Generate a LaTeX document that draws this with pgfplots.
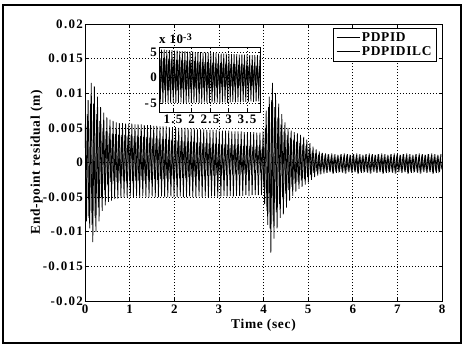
\documentclass[border=0pt]{standalone}
\usepackage{pgfplots}
\pgfplotsset{compat=1.18}
\usepackage{pgfplotstable}
\usepackage{fontspec}
\setmainfont{Liberation Serif}
\newfontfamily\tickfont[LetterSpace=10]{Liberation Serif}
\newfontfamily\labfont[LetterSpace=5]{Liberation Serif}

\pgfplotstableread{
t y
0.000 0.0055
0.035 -0.0085
0.070 0.0090
0.105 -0.0095
0.140 0.0115
0.175 -0.0115
0.210 0.0110
0.245 -0.0100
0.280 0.0095
0.315 -0.0085
0.350 0.0080
0.385 -0.0070
0.420 0.0072
0.455 -0.0062
0.490 0.0065
0.525 -0.0057
0.560 0.0062
0.595 -0.0055
0.630 0.0060
0.665 -0.0053
0.700 0.0058
0.735 -0.0052
0.770 0.0057
0.805 -0.0051
0.840 0.0057
0.875 -0.0050
0.910 0.0056
0.945 -0.0050
0.980 0.0056
1.015 -0.0049
1.050 0.0056
1.085 -0.0050
1.120 0.0055
1.155 -0.0049
1.190 0.0055
1.225 -0.0050
1.260 0.0055
1.295 -0.0049
1.330 0.0054
1.365 -0.0050
1.400 0.0054
1.435 -0.0050
1.470 0.0054
1.505 -0.0049
1.540 0.0053
1.575 -0.0050
1.610 0.0053
1.645 -0.0050
1.680 0.0052
1.715 -0.0049
1.750 0.0052
1.785 -0.0050
1.820 0.0052
1.855 -0.0050
1.890 0.0051
1.925 -0.0049
1.960 0.0051
1.995 -0.0050
2.030 0.0051
2.065 -0.0050
2.100 0.0050
2.135 -0.0049
2.170 0.0050
2.205 -0.0050
2.240 0.0050
2.275 -0.0050
2.310 0.0049
2.345 -0.0049
2.380 0.0049
2.415 -0.0050
2.450 0.0049
2.485 -0.0050
2.520 0.0048
2.555 -0.0049
2.590 0.0048
2.625 -0.0050
2.660 0.0048
2.695 -0.0049
2.730 0.0047
2.765 -0.0050
2.800 0.0047
2.835 -0.0049
2.870 0.0047
2.905 -0.0049
2.940 0.0047
2.975 -0.0050
3.010 0.0046
3.045 -0.0049
3.080 0.0046
3.115 -0.0048
3.150 0.0046
3.185 -0.0049
3.220 0.0046
3.255 -0.0048
3.290 0.0045
3.325 -0.0049
3.360 0.0045
3.395 -0.0048
3.430 0.0045
3.465 -0.0048
3.500 0.0045
3.535 -0.0048
3.570 0.0044
3.605 -0.0047
3.640 0.0044
3.675 -0.0048
3.710 0.0044
3.745 -0.0047
3.780 0.0044
3.815 -0.0047
3.850 0.0043
3.885 -0.0047
3.920 0.0043
3.955 -0.0047
3.990 0.0045
4.025 -0.0060
4.060 0.0075
4.095 -0.0090
4.130 0.0095
4.165 -0.0130
4.200 0.0115
4.235 -0.0110
4.270 0.0100
4.305 -0.0095
4.340 0.0085
4.375 -0.0080
4.410 0.0070
4.445 -0.0075
4.480 0.0058
4.515 -0.0065
4.550 0.0050
4.585 -0.0055
4.620 0.0046
4.655 -0.0048
4.690 0.0044
4.725 -0.0042
4.760 0.0042
4.795 -0.0038
4.830 0.0040
4.865 -0.0035
4.900 0.0037
4.935 -0.0032
4.970 0.0033
5.005 -0.0029
5.040 0.0028
5.075 -0.0025
5.110 0.0023
5.145 -0.0021
5.180 0.0019
5.215 -0.0019
5.250 0.0016
5.285 -0.0017
5.320 0.0014
5.355 -0.0016
5.390 0.0013
5.425 -0.0015
5.460 0.0012
5.495 -0.0014
5.530 0.0013
5.565 -0.0016
5.600 0.0012
5.635 -0.0015
5.670 0.0011
5.705 -0.0014
5.740 0.0012
5.775 -0.0015
5.810 0.0013
5.845 -0.0016
5.880 0.0012
5.915 -0.0014
5.950 0.0011
5.985 -0.0015
6.020 0.0012
6.055 -0.0014
6.090 0.0013
6.125 -0.0016
6.160 0.0012
6.195 -0.0015
6.230 0.0011
6.265 -0.0014
6.300 0.0012
6.335 -0.0015
6.370 0.0013
6.405 -0.0016
6.440 0.0012
6.475 -0.0014
6.510 0.0011
6.545 -0.0015
6.580 0.0012
6.615 -0.0014
6.650 0.0013
6.685 -0.0016
6.720 0.0012
6.755 -0.0015
6.790 0.0011
6.825 -0.0014
6.860 0.0012
6.895 -0.0015
6.930 0.0013
6.965 -0.0016
7.000 0.0012
7.035 -0.0014
7.070 0.0011
7.105 -0.0015
7.140 0.0012
7.175 -0.0014
7.210 0.0013
7.245 -0.0016
7.280 0.0012
7.315 -0.0015
7.350 0.0011
7.385 -0.0014
7.420 0.0012
7.455 -0.0015
7.490 0.0013
7.525 -0.0016
7.560 0.0012
7.595 -0.0014
7.630 0.0011
7.665 -0.0015
7.700 0.0012
7.735 -0.0014
7.770 0.0013
7.805 -0.0016
7.840 0.0012
7.875 -0.0015
7.910 0.0011
7.945 -0.0014
7.980 0.0012
}\pdpid

\pgfplotstableread{
t y
0.0175 -0.0060
0.0525 0.0070
0.0875 -0.0080
0.1225 0.0085
0.1575 -0.0090
0.1925 0.0085
0.2275 -0.0080
0.2625 0.0070
0.2975 -0.0065
0.3325 0.0060
0.3675 -0.0050
0.4025 0.0050
0.4375 -0.0040
0.4725 0.0045
0.5075 -0.0032
0.5425 0.0042
0.5775 -0.0028
0.6125 0.0041
0.6475 -0.0027
0.6825 0.0041
0.7175 -0.0028
0.7525 0.0040
0.7875 -0.0027
0.8225 0.0040
0.8575 -0.0026
0.8925 0.0040
0.9275 -0.0027
0.9625 0.0039
0.9975 -0.0026
1.0325 0.0039
1.0675 -0.0027
1.1025 0.0038
1.1375 -0.0026
1.1725 0.0038
1.2075 -0.0026
1.2425 0.0038
1.2775 -0.0025
1.3125 0.0037
1.3475 -0.0026
1.3825 0.0037
1.4175 -0.0025
1.4525 0.0036
1.4875 -0.0025
1.5225 0.0036
1.5575 -0.0024
1.5925 0.0035
1.6275 -0.0025
1.6625 0.0035
1.6975 -0.0024
1.7325 0.0034
1.7675 -0.0024
1.8025 0.0034
1.8375 -0.0023
1.8725 0.0033
1.9075 -0.0024
1.9425 0.0033
1.9775 -0.0023
2.0125 0.0032
2.0475 -0.0023
2.0825 0.0032
2.1175 -0.0022
2.1525 0.0031
2.1875 -0.0022
2.2225 0.0031
2.2575 -0.0022
2.2925 0.0030
2.3275 -0.0021
2.3625 0.0030
2.3975 -0.0021
2.4325 0.0030
2.4675 -0.0021
2.5025 0.0029
2.5375 -0.0020
2.5725 0.0029
2.6075 -0.0020
2.6425 0.0028
2.6775 -0.0020
2.7125 0.0028
2.7475 -0.0019
2.7825 0.0028
2.8175 -0.0019
2.8525 0.0027
2.8875 -0.0019
2.9225 0.0027
2.9575 -0.0018
2.9925 0.0027
3.0275 -0.0018
3.0625 0.0026
3.0975 -0.0018
3.1325 0.0026
3.1675 -0.0018
3.2025 0.0026
3.2375 -0.0017
3.2725 0.0025
3.3075 -0.0017
3.3425 0.0025
3.3775 -0.0017
3.4125 0.0025
3.4475 -0.0017
3.4825 0.0024
3.5175 -0.0016
3.5525 0.0024
3.5875 -0.0016
3.6225 0.0024
3.6575 -0.0016
3.6925 0.0024
3.7275 -0.0016
3.7625 0.0023
3.7975 -0.0015
3.8325 0.0023
3.8675 -0.0015
3.9025 0.0023
3.9375 -0.0015
3.9725 0.0023
4.0075 -0.0035
4.0425 0.0050
4.0775 -0.0070
4.1125 0.0080
4.1475 -0.0095
4.1825 0.0090
4.2175 -0.0085
4.2525 0.0080
4.2875 -0.0072
4.3225 0.0065
4.3575 -0.0060
4.3925 0.0055
4.4275 -0.0050
4.4625 0.0045
4.4975 -0.0045
4.5325 0.0040
4.5675 -0.0040
4.6025 0.0036
4.6375 -0.0035
4.6725 0.0032
4.7075 -0.0031
4.7425 0.0030
4.7775 -0.0028
4.8125 0.0028
4.8475 -0.0026
4.8825 0.0026
4.9175 -0.0024
4.9525 0.0024
4.9875 -0.0021
5.0225 0.0020
5.0575 -0.0018
5.0925 0.0016
5.1275 -0.0015
5.1625 0.0013
5.1975 -0.0013
5.2325 0.0011
5.2675 -0.0012
5.3025 0.0009
5.3375 -0.0010
5.3725 0.0007
5.4075 -0.0011
5.4425 0.0008
5.4775 -0.0010
5.5125 0.0006
5.5475 -0.0012
5.5825 0.0007
5.6175 -0.0010
5.6525 0.0007
5.6875 -0.0011
5.7225 0.0008
5.7575 -0.0010
5.7925 0.0006
5.8275 -0.0012
5.8625 0.0007
5.8975 -0.0010
5.9325 0.0007
5.9675 -0.0011
6.0025 0.0008
6.0375 -0.0010
6.0725 0.0006
6.1075 -0.0012
6.1425 0.0007
6.1775 -0.0010
6.2125 0.0007
6.2475 -0.0011
6.2825 0.0008
6.3175 -0.0010
6.3525 0.0006
6.3875 -0.0012
6.4225 0.0007
6.4575 -0.0010
6.4925 0.0007
6.5275 -0.0011
6.5625 0.0008
6.5975 -0.0010
6.6325 0.0006
6.6675 -0.0012
6.7025 0.0007
6.7375 -0.0010
6.7725 0.0007
6.8075 -0.0011
6.8425 0.0008
6.8775 -0.0010
6.9125 0.0006
6.9475 -0.0012
6.9825 0.0007
7.0175 -0.0010
7.0525 0.0007
7.0875 -0.0011
7.1225 0.0008
7.1575 -0.0010
7.1925 0.0006
7.2275 -0.0012
7.2625 0.0007
7.2975 -0.0010
7.3325 0.0007
7.3675 -0.0011
7.4025 0.0008
7.4375 -0.0010
7.4725 0.0006
7.5075 -0.0012
7.5425 0.0007
7.5775 -0.0010
7.6125 0.0007
7.6475 -0.0011
7.6825 0.0008
7.7175 -0.0010
7.7525 0.0006
7.7875 -0.0012
7.8225 0.0007
7.8575 -0.0010
7.8925 0.0007
7.9275 -0.0011
7.9625 0.0008
7.9975 -0.0010
}\pdpidilc

\begin{document}
\begin{tikzpicture}[x=1bp,y=1bp]
\useasboundingbox (-85bp,-47bp) rectangle (379bp,301bp);
\draw[line width=2bp] (-82bp,-42bp) rectangle (376bp,296bp);
\begin{axis}[
  at={(0bp,0bp)}, anchor=south west,
  scale only axis, width=357bp, height=277bp,
  xmin=0, xmax=8, ymin=-0.02, ymax=0.02,
  scaled y ticks=false, scaled x ticks=false,
  xtick={0,1,2,3,4,5,6,7,8},
  xticklabels={0,1,2,3,4,5,6,7,8},
  ytick={-0.02,-0.015,-0.01,-0.005,0,0.005,0.01,0.015,0.02},
  yticklabels={-0.02,-0.015,-0.01,-0.005,0,0.005,0.01,0.015,0.02},
  grid=major,
  major grid style={black, dash pattern=on 1.3bp off 1.7bp, line width=0.6bp},
  tick align=inside, major tick length=3bp,
  tick style={black, line width=0.6bp},
  axis line style={line width=0.9bp},
  every tick label/.append style={font=\tickfont\bfseries\fontsize{13}{15}\selectfont},
  xticklabel style={inner sep=1bp, yshift=-3bp},
  yticklabel style={inner sep=2bp},
  xlabel={Time (sec)}, ylabel={End-point residual (m)},
  label style={font=\labfont\bfseries\fontsize{13.5}{15}\selectfont},
  xlabel style={inner sep=0bp, yshift=-4bp},
  ylabel style={inner sep=0bp, yshift=-2bp},
  legend style={at={(1,1)}, anchor=north east, xshift=-5bp, yshift=-4bp,
    draw=black, line width=0.8bp, fill=white,
    font=\labfont\bfseries\fontsize{13.5}{15}\selectfont,
    inner xsep=3bp, inner ysep=2bp, row sep=0bp},
  legend cell align=left,
  legend image code/.code={\draw[#1, line width=0.8bp] (0bp,0bp) -- (23bp,0bp);},
]
\addplot[black, line width=0.75bp] table[x=t, y=y] {\pdpid};
\addlegendentry{PDPID}
\addplot[black, line width=0.75bp] table[x=t, y=y] {\pdpidilc};
\addlegendentry{PDPIDILC}
\end{axis}
\begin{axis}[
  at={(74bp,189bp)}, anchor=south west,
  scale only axis, width=101bp, height=65bp,
  xmin=1.12, xmax=3.85, ymin=-0.0068, ymax=0.006,
  clip mode=individual,
  scaled y ticks=false, scaled x ticks=false,
  xtick={1.5,2,2.5,3,3.5},
  xticklabels={1.5,2,2.5,3,3.5},
  ytick={-0.005,0,0.005},
  yticklabels={-5,0,5},
  axis background/.style={fill=white},
  grid=major,
  major grid style={black, dash pattern=on 1.3bp off 1.7bp, line width=0.6bp},
  tick align=inside, major tick length=2.5bp,
  tick style={black, line width=0.6bp},
  axis line style={line width=0.9bp},
  every tick label/.append style={font=\tickfont\bfseries\fontsize{13}{15}\selectfont},
  xticklabel style={inner sep=1bp, yshift=-2bp},
  yticklabel style={inner sep=2bp},
]
\addplot[black, line width=0.75bp] table[x=t, y=y] {\pdpid};
\addplot[black, line width=0.75bp] table[x=t, y=y] {\pdpidilc};
\node[anchor=south west, inner sep=0bp, yshift=3bp, font=\labfont\bfseries\fontsize{13}{15}\selectfont] at (rel axis cs:0,1) {x 10\raisebox{0.6ex}{\fontsize{10}{12}\selectfont -3}};
\end{axis}
\end{tikzpicture}
\end{document}
